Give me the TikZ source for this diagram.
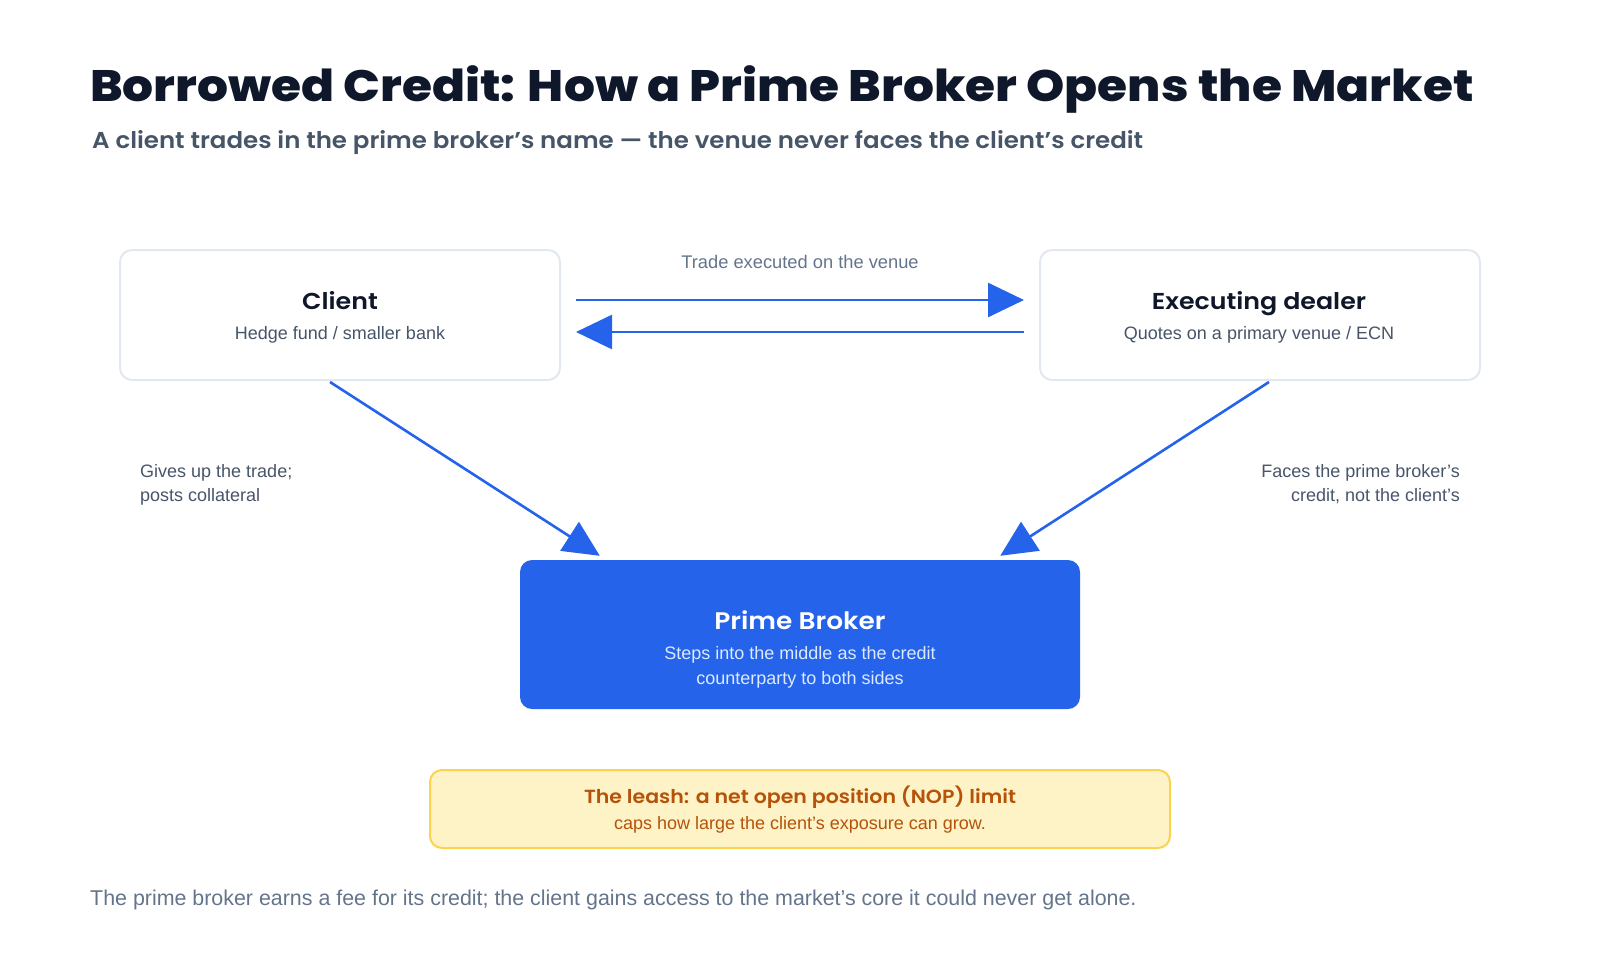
\documentclass[tikz,border=0pt]{standalone}
\usepackage{fontspec}
\setmainfont{Liberation Sans}
\newfontfamily\titlefont{Poppins ExtraBold}[FakeStretch=1.106]
\newfontfamily\subfont{Poppins SemiBold}[FakeStretch=1.065]
\newfontfamily\semifont{Poppins SemiBold}[FakeStretch=1.1]
\newfontfamily\nopfont{Poppins SemiBold}[FakeStretch=1.08]
\usetikzlibrary{arrows.meta}
\definecolor{ink}{HTML}{0F172A}
\definecolor{slate}{HTML}{475569}
\definecolor{muted}{HTML}{64748B}
\definecolor{edge}{HTML}{E2E8F0}
\definecolor{blue}{HTML}{2563EB}
\definecolor{paleblue}{HTML}{DBEAFE}
\definecolor{amberfill}{HTML}{FEF3C7}
\definecolor{amberedge}{HTML}{FCD34D}
\definecolor{ambertext}{HTML}{B45309}
\tikzset{
  card/.style={draw=edge, line width=2pt, fill=white, rounded corners=12pt, inner sep=0pt},
  pbox/.style={fill=blue, rounded corners=12pt, inner sep=0pt},
  leash/.style={draw=amberedge, line width=2pt, fill=amberfill, rounded corners=12pt, inner sep=0pt},
  flow/.style={draw=blue, line width=2.6pt, -{Triangle[length=36pt,width=34pt]}},
  txt/.style={inner sep=0pt, anchor=base},
}
\begin{document}
\begin{tikzpicture}[x=1pt,y=-1pt]
\useasboundingbox (0,0) rectangle (1600,960);
% title
\node[txt, anchor=base west, text=ink] (title) at (90,102) {\titlefont\fontsize{44}{50}\selectfont Borrowed Credit: How a Prime Broker Opens the Market};
\node[txt, anchor=base west, text=slate] (subtitle) at (92,149) {\subfont\fontsize{23}{27}\selectfont A client trades in the prime broker’s name — the venue never faces the client’s credit};
% boxes
\node[card, minimum width=440pt, minimum height=130pt] (client) at (340,315) {};
\node[card, minimum width=440pt, minimum height=130pt] (dealer) at (1260,315) {};
\node[pbox, minimum width=560pt, minimum height=149pt] (pb) at (800,634.5) {};
\node[leash, minimum width=740pt, minimum height=78pt] (nop) at (800,809) {};
% box texts
\node[txt, text=ink] (clientT) at (340,309) {\semifont\fontsize{23}{26}\selectfont Client};
\node[txt, text=slate] (clientS) at (340,339) {\fontsize{18}{22}\selectfont Hedge fund / smaller bank};
\node[txt, text=ink] (dealerT) at (1259,309) {\semifont\fontsize{23}{26}\selectfont Executing dealer};
\node[txt, text=slate] (dealerS) at (1259,339) {\fontsize{18}{22}\selectfont Quotes on a primary venue / ECN};
\node[txt, text=white] (pbT) at (800,629) {\semifont\fontsize{24}{28}\selectfont Prime Broker};
\node[txt, text=paleblue] (pbS1) at (800,659) {\fontsize{18}{22}\selectfont Steps into the middle as the credit};
\node[txt, text=paleblue] (pbS2) at (800,684) {\fontsize{18}{22}\selectfont counterparty to both sides};
\node[txt, text=ambertext] (nopT) at (800,803) {\nopfont\fontsize{19}{23}\selectfont The leash: a net open position (NOP) limit};
\node[txt, text=ambertext] (nopS) at (800,829) {\fontsize{18}{21}\selectfont caps how large the client’s exposure can grow.};
% connectors
\draw[flow] ([shift={(15,-15)}]client.east) -- ([shift={(-15,-15)}]dealer.west);
\draw[flow] ([shift={(-15,17)}]dealer.west) -- ([shift={(15,17)}]client.east);
\draw[flow] ([shift={(-10,1)}]client.south) -- ([shift={(80,-4)}]pb.north west);
\draw[flow] ([shift={(9,1)}]dealer.south) -- ([shift={(-80,-4)}]pb.north east);
% labels
\node[txt, text=muted] (tradeL) at (800,268) {\fontsize{18.3}{22}\selectfont Trade executed on the venue};
\node[txt, anchor=base west, text=slate] (giveL1) at (140,477) {\fontsize{18}{21}\selectfont Gives up the trade;};
\node[txt, anchor=base west, text=slate] (giveL2) at (140,501) {\fontsize{18}{21}\selectfont posts collateral};
\node[txt, anchor=base east, text=slate] (faceL1) at (1460,477) {\fontsize{18}{21}\selectfont Faces the prime broker’s};
\node[txt, anchor=base east, text=slate] (faceL2) at (1460,501) {\fontsize{18}{21}\selectfont credit, not the client’s};
% footer
\node[txt, anchor=base west, text=muted] (footer) at (90,905) {\fontsize{21.4}{25}\selectfont The prime broker earns a fee for its credit; the client gains access to the market’s core it could never get alone.};
\end{tikzpicture}
\end{document}
